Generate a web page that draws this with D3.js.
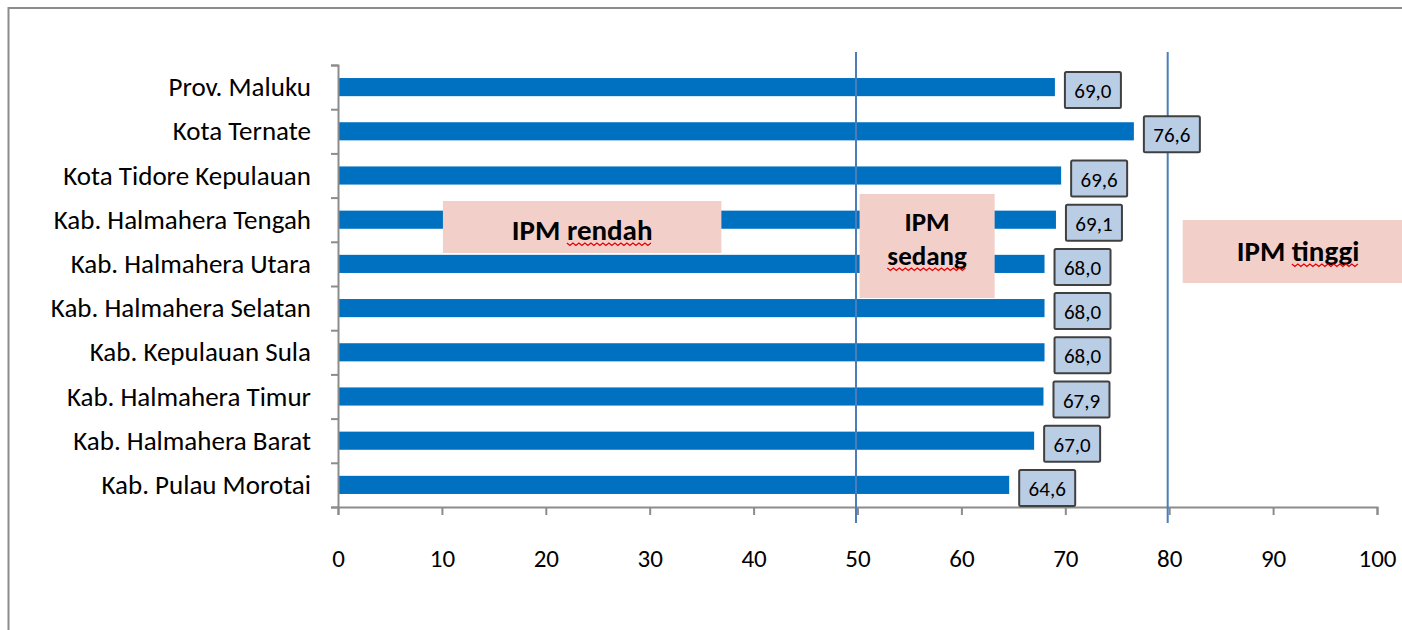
<!DOCTYPE html>
<html>
<head>
<meta charset="utf-8">
<script src="https://cdn.jsdelivr.net/npm/d3@7"></script>
<style>
  body { margin: 0; background: #fff; }
  svg { display: block; font-family: Carlito, Calibri, Lato, sans-serif; }
</style>
</head>
<body>
<div id="chart"></div>
<script>
// data
const regions = [
    "Prov. Maluku",
    "Kota Ternate",
    "Kota Tidore Kepulauan",
    "Kab. Halmahera Tengah",
    "Kab. Halmahera Utara",
    "Kab. Halmahera Selatan",
    "Kab. Kepulauan Sula",
    "Kab. Halmahera Timur",
    "Kab. Halmahera Barat",
    "Kab. Pulau Morotai"
];
const ipm = [69.0, 76.6, 69.6, 69.1, 68.0, 68.0, 68.0, 67.9, 67.0, 64.6];
const xTicks = [0, 10, 20, 30, 40, 50, 60, 70, 80, 90, 100];
const thresholds = [50, 80];
const zoneNames = [["IPM rendah"], ["IPM", "sedang"], ["IPM tinggi"]];

const width = 1402, height = 630;
const dims = { left: 338, right: 1377, top: 65, bottom: 507 };

let svg = d3.select("#chart")
    .append("svg")
    .attr("width", width)
    .attr("height", height);

// outer frame (runs off the right and bottom edge)
svg.append("rect")
    .attr("x", 8.5).attr("y", 8)
    .attr("width", 1420).attr("height", 660)
    .attr("fill", "none")
    .attr("stroke", "#8c8c8c")
    .attr("stroke-width", 2);

let x = d3.scaleLinear()
    .domain([0, 100])
    .range([dims.left, dims.right]);

let y = d3.scaleBand()
    .domain(regions)
    .range([dims.top, dims.bottom]);

// band boundaries for the category ticks
let yEdge = d3.scaleLinear()
    .domain([0, regions.length])
    .range([dims.top, dims.bottom]);

let barH = y.bandwidth() * 0.41;

// bars
svg.append("g")
    .selectAll("rect")
    .data(regions)
    .enter()
    .append("rect")
    .attr("x", x(0))
    .attr("y", function(d) { return y(d) + y.bandwidth() / 2 - barH / 2; })
    .attr("width", function(d, i) { return x(ipm[i]) - x(0); })
    .attr("height", barH)
    .attr("fill", "#0070c0");

// y axis
let yAxis = svg.append("g")
    .attr("transform", "translate(" + x(0) + ",0)")
    .call(d3.axisLeft(yEdge).tickValues(d3.range(regions.length + 1)).tickSize(7).tickFormat(""));
yAxis.select(".domain").attr("stroke", "#8c8c8c").attr("stroke-width", 2);
yAxis.selectAll(".tick line").attr("stroke", "#8c8c8c").attr("stroke-width", 2);

svg.append("g")
    .selectAll("text")
    .data(regions)
    .enter()
    .append("text")
    .attr("x", 311)
    .attr("y", function(d) { return y(d) + y.bandwidth() / 2 + 9; })
    .attr("text-anchor", "end")
    .attr("font-size", 27)
    .attr("fill", "#000")
    .text(function(d) { return d; });

// x axis
let xAxis = svg.append("g")
    .attr("transform", "translate(0," + dims.bottom + ")")
    .call(d3.axisBottom(x).tickValues(xTicks).tickSize(8).tickSizeOuter(8).tickPadding(34));
xAxis.select(".domain").attr("stroke", "#8c8c8c").attr("stroke-width", 2);
xAxis.selectAll(".tick line").attr("stroke", "#8c8c8c").attr("stroke-width", 2);
xAxis.selectAll(".tick text")
    .attr("font-size", 25)
    .attr("font-family", "Carlito, Calibri, Lato, sans-serif")
    .attr("fill", "#000");

// zone annotation boxes (on top of the bars)
const zoneBoxes = [
    { x0: 10.1, x1: 36.9, y0: 201, y1: 253, cx: 23.5, base: [240], fs: 29 },
    { x0: 50.2, x1: 63.2, y0: 194, y1: 298, cx: 56.7, base: [231, 265], fs: 27 },
    { x0: 81.3, x1: 110, y0: 220, y1: 283, cx: 92.4, base: [261], fs: 29 }
];

let zones = svg.append("g");
zoneBoxes.forEach(function(b, i) {
    zones.append("rect")
        .attr("x", x(b.x0))
        .attr("y", b.y0)
        .attr("width", x(b.x1) - x(b.x0))
        .attr("height", b.y1 - b.y0)
        .attr("fill", "#f3cfc9");
    zoneNames[i].forEach(function(line, j) {
        zones.append("text")
            .attr("x", x(b.cx))
            .attr("y", b.base[j])
            .attr("text-anchor", "middle")
            .attr("font-size", b.fs)
            .attr("font-weight", "bold")
            .attr("fill", "#000")
            .text(line);
    });
});

// threshold lines
svg.append("g")
    .selectAll("line")
    .data(thresholds)
    .enter()
    .append("line")
    .attr("x1", function(d) { return x(d) - 1.5; })
    .attr("x2", function(d) { return x(d) - 1.5; })
    .attr("y1", 52)
    .attr("y2", 523)
    .attr("stroke", "#4a7ebb")
    .attr("stroke-width", 2);

// red spell-check squiggles under the lower-case words
function squiggle(xa, xb, yy) {
    let pts = [];
    let k = 0;
    for (let xx = xa; xx <= xb; xx += 3) {
        pts.push([xx, yy + (k % 2 ? 2.5 : 0)]);
        k++;
    }
    svg.append("path")
        .attr("d", d3.line()(pts))
        .attr("fill", "none")
        .attr("stroke", "#e00000")
        .attr("stroke-width", 1.2);
}
zones.selectAll("text").each(function() {
    let t = d3.select(this);
    let txt = t.text();
    if (txt === "IPM") return;
    let bb = this.getBBox();
    let baseY = +t.attr("y");
    let full = this.getComputedTextLength();
    let wordStart = txt.lastIndexOf(" ") + 1;
    let startX = bb.x + (wordStart > 0 ? this.getSubStringLength(0, wordStart) : 0);
    squiggle(startX, bb.x + full, baseY + 3);
});

// value labels
let lab = svg.append("g")
    .selectAll("g")
    .data(regions)
    .enter()
    .append("g")
    .attr("transform", function(d, i) {
        return "translate(" + (x(ipm[i]) + 10) + "," + (y(d) + y.bandwidth() / 2 + 3) + ")";
    });

lab.append("rect")
    .attr("x", 0)
    .attr("y", -18)
    .attr("width", 56)
    .attr("height", 36)
    .attr("rx", 1.5)
    .attr("fill", "#b9cde5")
    .attr("stroke", "#404040")
    .attr("stroke-width", 2);

lab.append("text")
    .attr("x", 28)
    .attr("y", 8)
    .attr("text-anchor", "middle")
    .attr("font-size", 21)
    .attr("fill", "#000")
    .text(function(d, i) { return ipm[i].toFixed(1).replace(".", ","); });
</script>
</body>
</html>
